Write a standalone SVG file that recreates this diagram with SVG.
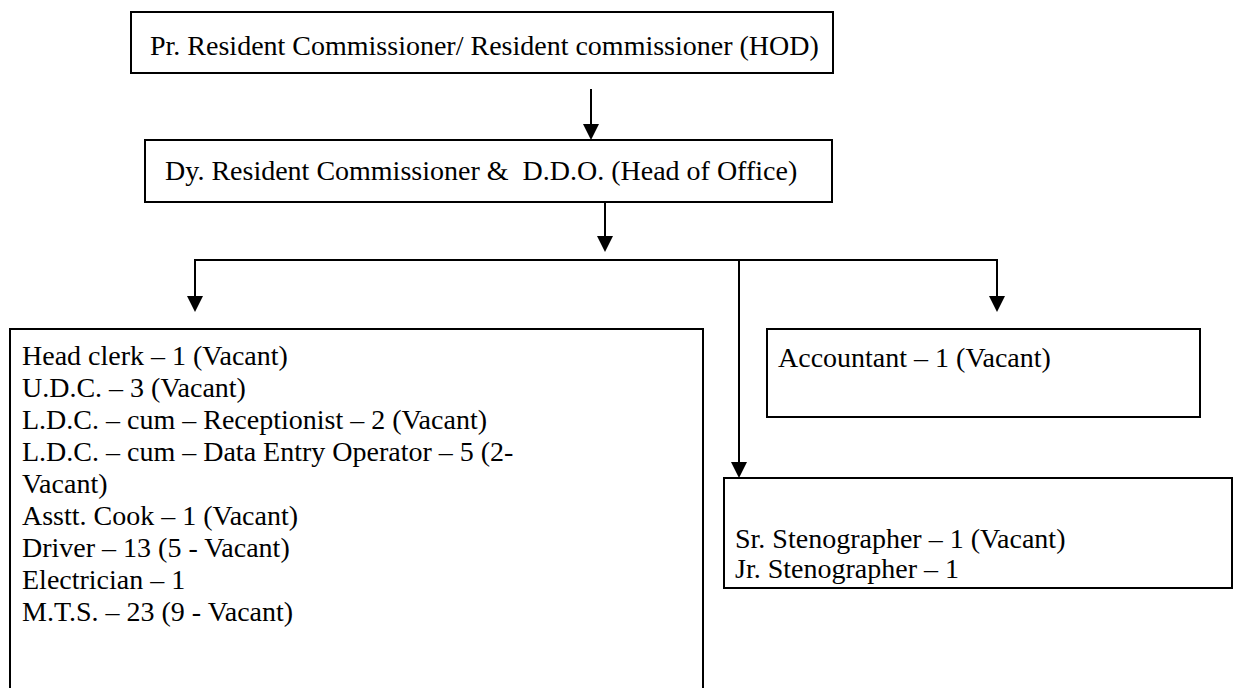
<svg xmlns="http://www.w3.org/2000/svg" width="1234" height="688" viewBox="0 0 1234 688">
  <defs>
    <marker id="arrow" viewBox="0 0 16 16" refX="8" refY="16" markerWidth="16" markerHeight="16" markerUnits="userSpaceOnUse" orient="auto-start-reverse">
      <path d="M0,0 L16,0 L8,16 Z" fill="#000"/>
    </marker>
  </defs>
  <style>
    .box { fill: #fff; stroke: #000; stroke-width: 2; }
    .label { font-family: "Liberation Serif", "Times New Roman", serif; font-size: 28px; fill: #000; }
    .wire { fill: none; stroke: #000; stroke-width: 2; }
    .arrow { fill: none; stroke: #000; stroke-width: 2; }
  </style>
  <rect width="1234" height="688" fill="#fff"/>

  <!-- connectors -->
  <g id="connectors">
    <line class="arrow" x1="591" y1="89" x2="591" y2="124"/>
    <path d="M583,124 L599,124 L591,140 Z" fill="#000"/>
    <line class="arrow" x1="605" y1="202" x2="605" y2="236"/>
    <path d="M597,236 L613,236 L605,252 Z" fill="#000"/>
    <polyline class="wire" points="195,296 195,260 997,260 997,296"/>
    <path d="M187,296 L203,296 L195,312 Z" fill="#000"/>
    <path d="M989,296 L1005,296 L997,312 Z" fill="#000"/>
    <line class="wire" x1="739" y1="260" x2="739" y2="462"/>
    <path d="M731,462 L747,462 L739,478 Z" fill="#000"/>
  </g>

  <!-- head of department -->
  <g id="node-hod">
    <rect class="box" x="131" y="12" width="702" height="61"/>
    <text class="label" x="150" y="55">Pr. Resident Commissioner/ Resident commissioner (HOD)</text>
  </g>

  <!-- head of office -->
  <g id="node-ddo">
    <rect class="box" x="145" y="140" width="687" height="62"/>
    <text class="label" x="165" y="180" xml:space="preserve">Dy. Resident Commissioner &amp;  D.D.O. (Head of Office)</text>
  </g>

  <!-- ministerial staff -->
  <g id="node-staff">
    <rect class="box" x="10" y="329" width="693" height="380"/>
    <text class="label" x="22" y="365">Head clerk – 1 (Vacant)</text>
    <text class="label" x="22" y="397">U.D.C. – 3 (Vacant)</text>
    <text class="label" x="22" y="429">L.D.C. – cum – Receptionist – 2 (Vacant)</text>
    <text class="label" x="22" y="461">L.D.C. – cum – Data Entry Operator – 5 (2-</text>
    <text class="label" x="22" y="493">Vacant)</text>
    <text class="label" x="22" y="525">Asstt. Cook – 1 (Vacant)</text>
    <text class="label" x="22" y="557">Driver – 13 (5 - Vacant)</text>
    <text class="label" x="22" y="589">Electrician – 1</text>
    <text class="label" x="22" y="621">M.T.S. – 23 (9 - Vacant)</text>
  </g>

  <!-- accounts -->
  <g id="node-accountant">
    <rect class="box" x="767" y="329" width="433" height="88"/>
    <text class="label" x="778" y="367">Accountant – 1 (Vacant)</text>
  </g>

  <!-- stenographers -->
  <g id="node-steno">
    <rect class="box" x="724" y="478" width="508" height="110"/>
    <text class="label" x="735" y="548">Sr. Stenographer – 1 (Vacant)</text>
    <text class="label" x="735" y="578">Jr. Stenographer – 1</text>
  </g>
</svg>
